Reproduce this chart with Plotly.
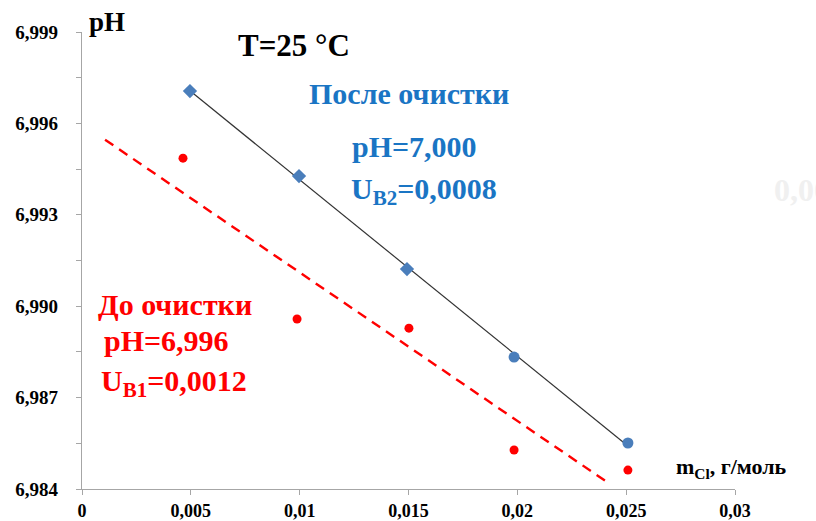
import numpy as np
import plotly.graph_objects as go

# ---- data ----
x_after = [0.00496, 0.00997, 0.01493, 0.01985, 0.02508]
ph_after = [6.99706, 6.99427, 6.99122, 6.98833, 6.98551]
after_symbols = ["diamond", "diamond", "diamond", "circle", "circle"]

x_before = [0.00464, 0.00988, 0.01502, 0.01985, 0.02508]
ph_before = [6.99486, 6.98958, 6.98928, 6.98528, 6.98462]

x_tick_vals = [0, 0.005, 0.01, 0.015, 0.02, 0.025, 0.03]
x_tick_text = ["0", "0,005", "0,01", "0,015", "0,02", "0,025", "0,03"]
y_tick_vals = [6.984, 6.987, 6.990, 6.993, 6.996, 6.999]
y_tick_text = ["6,984", "6,987", "6,990", "6,993", "6,996", "6,999"]

BLUE_TXT = "#1A75C4"
BLUE_MK = "#4A7EBB"
RED = "#FF0000"
FONT = "Liberation Serif"

W, H = 816, 521
L, R, T, B = 82, 735, 32, 489


def paper(px, py):
    return (px - L) / (R - L), (B - py) / (B - T)


# trend lines (least squares)
ka, ba = np.polyfit(x_after, ph_after, 1)
kb, bb = np.polyfit(x_before, ph_before, 1)
xa_line = np.array([min(x_after), max(x_after)])
xb_line = np.array([0.00106, 0.02412])

fig = go.Figure()
fig.add_trace(go.Scatter(x=xb_line, y=kb * xb_line + bb, mode="lines",
                         line=dict(color=RED, width=2.4, dash="10px,7px"),
                         hoverinfo="skip", showlegend=False))
fig.add_trace(go.Scatter(x=xa_line, y=ka * xa_line + ba, mode="lines",
                         line=dict(color="#333333", width=1.2),
                         hoverinfo="skip", showlegend=False))
fig.add_trace(go.Scatter(x=x_after, y=ph_after, mode="markers",
                         marker=dict(color=BLUE_MK, size=11, symbol=after_symbols),
                         showlegend=False))
fig.add_trace(go.Scatter(x=x_before, y=ph_before, mode="markers",
                         marker=dict(color=RED, size=9, symbol="circle"),
                         showlegend=False))

annots = []


def add_text(px, py, text, size, color, anchor="center"):
    xp, yp = paper(px, py)
    annots.append(dict(x=xp, y=yp, xref="paper", yref="paper", text=text,
                       showarrow=False, xanchor=anchor, yanchor="middle",
                       font=dict(family=FONT, size=size, color=color)))


add_text(87, 22, "<b>pH</b>", 27, "black", "left")
add_text(294, 45, "<b>T=25 °C</b>", 31, "black")
add_text(409, 94, "<b>После очистки</b>", 30, BLUE_TXT)
add_text(414, 146, "<b>pH=7,000</b>", 30, BLUE_TXT)
add_text(424, 191, "<b>U<sub>B2</sub>=0,0008</b>", 30, BLUE_TXT)
add_text(175, 304, "<b>До очистки</b>", 30, RED)
add_text(166, 340, "<b>pH=6,996</b>", 30, RED)
add_text(174, 383, "<b>U<sub>B1</sub>=0,0012</b>", 30, RED)
add_text(674, 468, "<b>m<sub>Cl</sub>, г/моль</b>", 22, "black", "left")
add_text(772, 190, "<b>0,00</b>", 32, "#F0F0F0", "left")

axis_common = dict(showgrid=False, zeroline=False, showline=True, linecolor="#A6A6A6",
                   linewidth=1.3, ticks="outside", ticklen=5, tickcolor="#A6A6A6",
                   automargin=False)

fig.update_layout(
    width=W, height=H,
    margin=dict(l=L, r=W - R, t=T, b=H - B),
    paper_bgcolor="white", plot_bgcolor="white",
    font=dict(family=FONT, size=18, color="black"),
    annotations=annots,
    xaxis=dict(range=[0, 0.03], tickvals=x_tick_vals, ticktext=x_tick_text,
               ticklabelstandoff=0,
               tickfont=dict(family=FONT, size=18, color="black", weight="bold"),
               **axis_common),
    yaxis=dict(range=[6.984, 6.999], tickvals=y_tick_vals, ticktext=y_tick_text,
               ticklabelstandoff=14,
               tickfont=dict(family=FONT, size=19, color="black", weight="bold"),
               minor=dict(tickmode="linear", tick0=6.984, dtick=0.0015, ticks="outside",
                          ticklen=5, tickcolor="#A6A6A6", showgrid=False),
               **axis_common),
)

fig.write_html("out.html")
